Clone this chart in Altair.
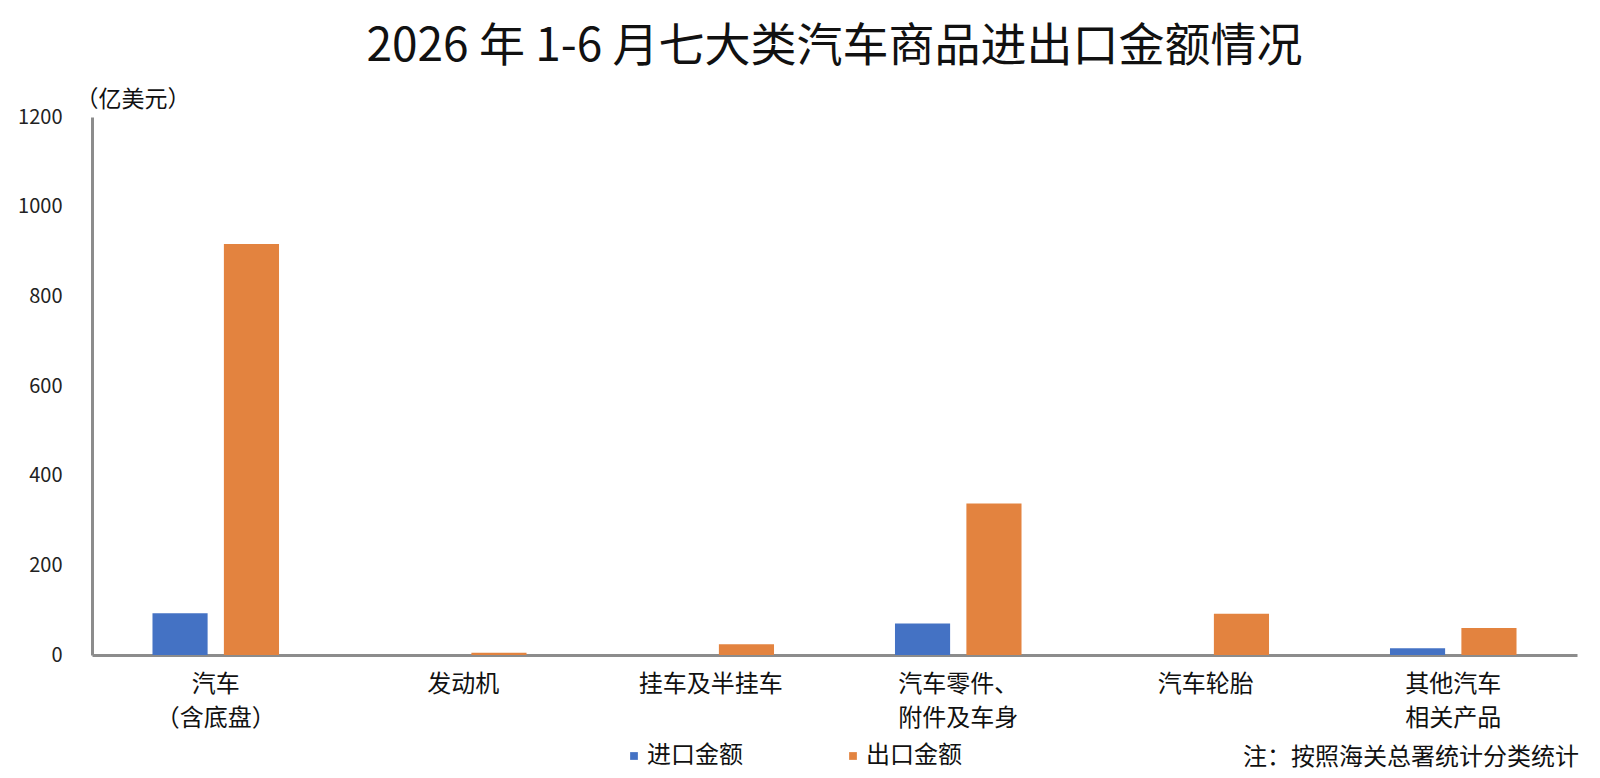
import altair as alt
import pandas as pd

categories = ["汽车\n（含底盘）", "发动机", "挂车及半挂车", "汽车零件、\n附件及车身", "汽车轮胎", "其他汽车\n相关产品"]
series_names = ["进口金额", "出口金额"]
import_values = [93, 0, 0, 70, 0, 15]
export_values = [917, 5, 24, 338, 92, 60]
y_ticks = [0, 200, 400, 600, 800, 1000, 1200]
title_text = "2026 年 1-6 月七大类汽车商品进出口金额情况"
unit_text = "（亿美元）"
note_text = "注：按照海关总署统计分类统计"
colors = ["#4472C4", "#E3833F"]

rows = []
for c, iv, ev in zip(categories, import_values, export_values):
    rows.append({"category": c, "series": series_names[0], "value": iv})
    rows.append({"category": c, "series": series_names[1], "value": ev})
df = pd.DataFrame(rows)

W, H = 1485, 538
FONT = "Noto Sans CJK SC"
AXIS_GRAY = "#8c8c8c"

bars = alt.Chart(df).mark_bar().encode(
    x=alt.X(
        "category:N",
        sort=categories,
        scale=alt.Scale(paddingInner=0, paddingOuter=0),
        axis=alt.Axis(
            title=None, labelAngle=0, labelExpr="split(datum.label, '\\n')",
            labelFont=FONT, labelFontSize=24, labelColor="#111", labelLineHeight=34,
            labelPadding=17, ticks=False, domainColor=AXIS_GRAY, domainWidth=3,
            grid=False,
        ),
    ),
    xOffset=alt.XOffset(
        "series:N", sort=series_names,
        scale=alt.Scale(paddingInner=0.228, paddingOuter=0.847),
    ),
    y=alt.Y(
        "value:Q",
        scale=alt.Scale(domain=[0, 1200], nice=False),
        axis=alt.Axis(
            values=y_ticks, format="d", title=unit_text, titleAngle=0, titleX=-17, titleY=-18,
            titleAlign="left", titleBaseline="middle", titleFont=FONT, titleFontSize=23,
            titleFontWeight="normal", titleColor="#111",
            labelFont=FONT, labelFontSize=20, labelColor="#222", labelPadding=30,
            ticks=False, grid=False, domainColor=AXIS_GRAY, domainWidth=3,
        ),
    ),
    color=alt.Color(
        "series:N", sort=series_names,
        scale=alt.Scale(domain=series_names, range=colors),
        legend=alt.Legend(
            title=None, orient="none", legendX=530, legendY=627, direction="horizontal",
            symbolType="square", symbolSize=60, symbolStrokeWidth=0,
            labelFont=FONT, labelFontSize=24, labelColor="#111",
            columnPadding=98, labelOffset=1,
        ),
    ),
)

note = alt.Chart(pd.DataFrame({"t": [note_text]})).mark_text(
    align="right", baseline="middle", fontSize=24, font=FONT, color="#111"
).encode(x=alt.value(W + 2), y=alt.value(641), text="t:N")

chart = alt.layer(bars, note).properties(
    width=W,
    height=H,
    title=alt.TitleParams(
        text=title_text, fontSize=46, font=FONT, fontWeight="normal",
        anchor="middle", frame="group", offset=17, color="#111",
    ),
    padding={"left": 84, "top": 109, "right": 15, "bottom": 122},
    autosize=alt.AutoSizeParams(type="none"),
).configure_view(stroke=None)

chart.save("out.html", embed_options={"renderer": "svg", "actions": False})
